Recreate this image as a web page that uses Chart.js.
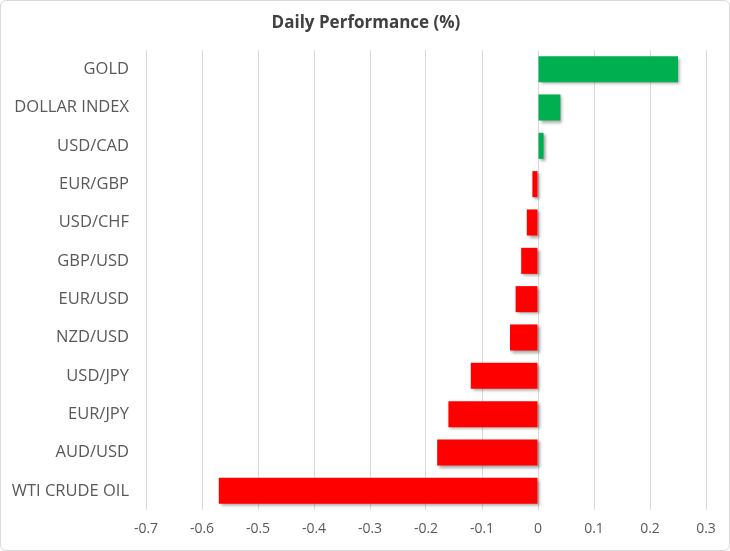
<!DOCTYPE html>
<html>
<head>
<meta charset="utf-8">
<script src="https://cdn.jsdelivr.net/npm/chart.js@4"></script>
<style>
  html, body { margin: 0; padding: 0; background: #fff; }
  #wrap {
    width: 730px; height: 551px; box-sizing: border-box;
    border: 1px solid #d9d9d9; border-radius: 6px; position: relative;
  }
  canvas { display: block; }
</style>
</head>
<body>
<div id="wrap"><canvas id="perfChart" width="728" height="549"></canvas></div>
<script>
const instruments = ["GOLD", "DOLLAR INDEX", "USD/CAD", "EUR/GBP", "USD/CHF", "GBP/USD",
                     "EUR/USD", "NZD/USD", "USD/JPY", "EUR/JPY", "AUD/USD", "WTI CRUDE OIL"];
const changes = [0.25, 0.04, 0.01, -0.01, -0.02, -0.03, -0.04, -0.05, -0.12, -0.16, -0.18, -0.57];
const xTicks = [-0.7, -0.6, -0.5, -0.4, -0.3, -0.2, -0.1, 0, 0.1, 0.2, 0.3];
const chartTitle = "Daily Performance (%)";

const barColors = changes.map(v => v >= 0 ? "#00b050" : "#ff0000");
const labelColor = "#595959";
const fontFamily = "'Open Sans', 'Liberation Sans', sans-serif";

// soft drop shadow behind bars, like the Excel original
const barShadow = {
    id: "barShadow",
    beforeDatasetsDraw(chart) {
        const ctx = chart.ctx;
        ctx.save();
        ctx.shadowColor = "rgba(0,0,0,0.35)";
        ctx.shadowBlur = 3;
        ctx.shadowOffsetX = 2;
        ctx.shadowOffsetY = 2;
    },
    afterDatasetsDraw(chart) {
        chart.ctx.restore();
    }
};

// Excel centres the title on the whole frame, not on the padded layout box
const frameTitle = {
    id: "frameTitle",
    afterDraw(chart) {
        const ctx = chart.ctx;
        ctx.save();
        ctx.font = "bold 17px " + fontFamily;
        ctx.fillStyle = "#404040";
        ctx.textAlign = "center";
        ctx.textBaseline = "middle";
        ctx.fillText(chartTitle, chart.width / 2 + 1, 22);
        ctx.restore();
    }
};

new Chart(document.getElementById("perfChart"), {
    type: "bar",
    data: {
        labels: instruments,
        datasets: [{
            data: changes,
            backgroundColor: barColors,
            borderWidth: 0,
            categoryPercentage: 1,
            barPercentage: 0.68
        }]
    },
    options: {
        indexAxis: "y",
        responsive: false,
        animation: false,
        layout: { padding: { left: 0, right: 23, top: 49, bottom: 0 } },
        plugins: {
            legend: { display: false },
            tooltip: { enabled: false },
            title: { display: false }
        },
        scales: {
            x: {
                min: -0.7,
                max: 0.3,
                afterBuildTicks: scale => { scale.ticks = xTicks.map(v => ({ value: v })); },
                afterFit: scale => { scale.height = 40; },
                grid: { color: "#d9d9d9", drawTicks: false },
                border: { display: false },
                ticks: {
                    padding: 11,
                    color: labelColor,
                    font: { family: fontFamily, size: 14 },
                    callback: v => String(Number(v.toFixed(1)))
                }
            },
            y: {
                afterFit: scale => { scale.width = 145; },
                grid: { display: false, drawTicks: false },
                border: { display: false },
                ticks: {
                    padding: 17,
                    color: labelColor,
                    font: { family: fontFamily, size: 16.5 }
                }
            }
        }
    },
    plugins: [barShadow, frameTitle]
});
</script>
</body>
</html>
